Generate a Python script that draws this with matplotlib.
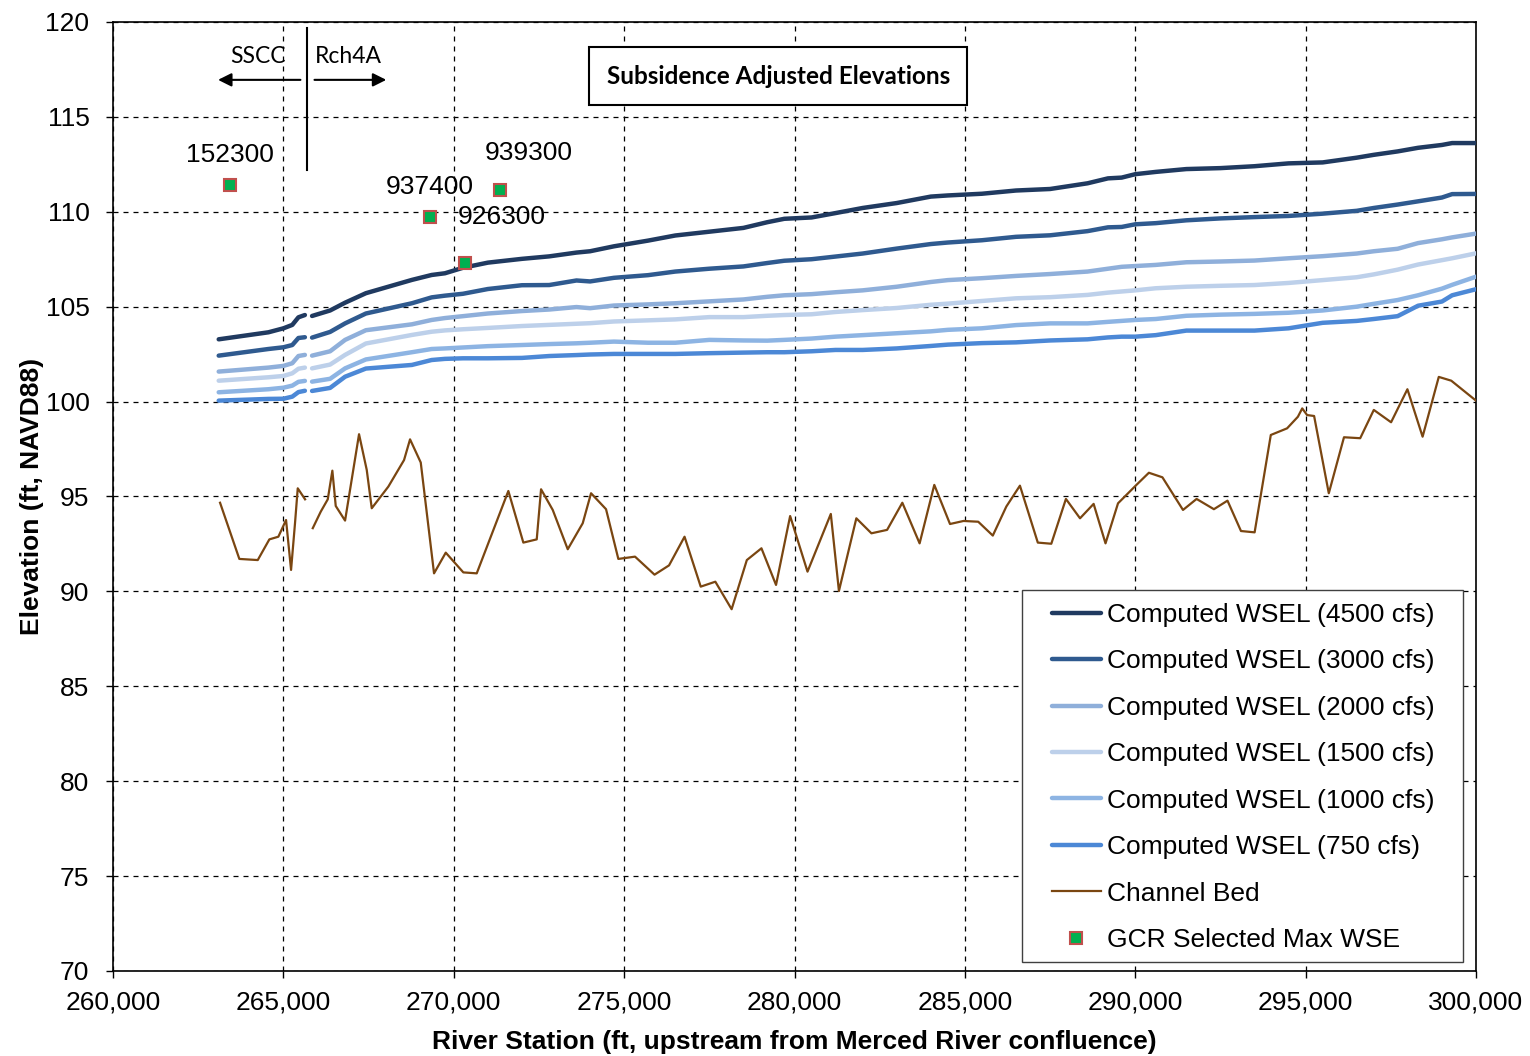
import numpy as np
import matplotlib
matplotlib.use("Agg")
import matplotlib.pyplot as plt
from matplotlib.patches import Rectangle

nan = np.nan

# ---- data ----
stations = [263100, 264560, 265000, 265260, 265440, 265630, 265700, 265840, 266370, 266810,
            267420, 268770, 269350, 269740, 270270, 271000, 272000, 272800, 273600, 274000,
            274700, 275700, 276500, 277500, 278500, 279200, 279700, 280500, 281200, 282000,
            283000, 284000, 284500, 285500, 286500, 287500, 288600, 289200, 289600, 290000,
            290600, 291500, 292500, 293500, 294500, 295500, 296500, 297000, 297700, 298300,
            299000, 299300, 300000]

wsel_4500 = [103.28, 103.65, 103.86, 104.04, 104.44, 104.56, nan, 104.51, 104.80, 105.21,
             105.71, 106.41, 106.67, 106.76, 107.05, 107.32, 107.52, 107.65, 107.85, 107.92,
             108.18, 108.48, 108.75, 108.95, 109.15, 109.45, 109.63, 109.70, 109.93, 110.20,
             110.46, 110.80, 110.86, 110.95, 111.12, 111.20, 111.50, 111.76, 111.80, 111.98,
             112.10, 112.25, 112.30, 112.40, 112.55, 112.60, 112.85, 113.00, 113.18, 113.37,
             113.52, 113.62, 113.62]
wsel_3000 = [102.42, 102.77, 102.86, 102.98, 103.35, 103.39, nan, 103.37, 103.67, 104.12,
             104.64, 105.18, 105.49, 105.58, 105.68, 105.93, 106.13, 106.14, 106.38, 106.33,
             106.52, 106.66, 106.85, 107.00, 107.12, 107.30, 107.42, 107.50, 107.64, 107.80,
             108.06, 108.30, 108.38, 108.50, 108.68, 108.76, 108.98, 109.18, 109.20, 109.34,
             109.40, 109.55, 109.65, 109.72, 109.78, 109.90, 110.05, 110.20, 110.38, 110.55,
             110.75, 110.93, 110.94]
wsel_2000 = [101.58, 101.79, 101.88, 102.02, 102.40, 102.46, nan, 102.42, 102.65, 103.25,
             103.76, 104.07, 104.30, 104.40, 104.50, 104.64, 104.77, 104.85, 104.98, 104.92,
             105.06, 105.12, 105.18, 105.28, 105.38, 105.52, 105.60, 105.66, 105.76, 105.86,
             106.05, 106.30, 106.40, 106.50, 106.62, 106.72, 106.85, 107.00, 107.10, 107.14,
             107.20, 107.34, 107.38, 107.43, 107.55, 107.66, 107.80, 107.92, 108.05, 108.35,
             108.55, 108.65, 108.85]
wsel_1500 = [101.10, 101.28, 101.35, 101.49, 101.73, 101.79, nan, 101.75, 101.95, 102.46,
             103.06, 103.51, 103.68, 103.75, 103.81, 103.88, 103.98, 104.04, 104.10, 104.13,
             104.22, 104.28, 104.33, 104.45, 104.45, 104.52, 104.56, 104.60, 104.72, 104.82,
             104.93, 105.10, 105.16, 105.30, 105.44, 105.50, 105.62, 105.74, 105.80, 105.86,
             105.97, 106.05, 106.10, 106.14, 106.25, 106.40, 106.55, 106.70, 106.95, 107.22,
             107.45, 107.55, 107.81]
wsel_1000 = [100.49, 100.65, 100.73, 100.84, 101.04, 101.09, nan, 101.05, 101.20, 101.75,
             102.22, 102.60, 102.77, 102.80, 102.85, 102.92, 102.98, 103.03, 103.07, 103.10,
             103.16, 103.10, 103.10, 103.25, 103.22, 103.21, 103.25, 103.32, 103.42, 103.50,
             103.60, 103.70, 103.78, 103.86, 104.03, 104.12, 104.12, 104.20, 104.25, 104.30,
             104.35, 104.52, 104.58, 104.62, 104.68, 104.80, 105.00, 105.15, 105.35, 105.60,
             105.95, 106.15, 106.58]
wsel_750 = [100.05, 100.14, 100.15, 100.26, 100.50, 100.57, nan, 100.56, 100.72, 101.31,
            101.74, 101.93, 102.19, 102.25, 102.28, 102.28, 102.30, 102.40, 102.45, 102.48,
            102.51, 102.51, 102.51, 102.55, 102.58, 102.60, 102.60, 102.65, 102.72, 102.72,
            102.80, 102.93, 103.00, 103.08, 103.12, 103.22, 103.28, 103.38, 103.42, 103.42,
            103.50, 103.74, 103.74, 103.74, 103.86, 104.15, 104.25, 104.35, 104.50, 105.05,
            105.27, 105.60, 105.92]

bed_station = [263140, 263706, 264246, 264587, 264851, 265077, 265224, 265341, 265420, 265635,
               265750, 265861, 266095, 266301, 266436, 266535, 266809, 267219, 267445, 267592,
               268079, 268540, 268716, 269030, 269420, 269764, 270280, 270673, 271601, 272041,
               272434, 272561, 272904, 273344, 273784, 274028, 274468, 274829, 275319, 275891,
               276317, 276772, 277247, 277676, 278154, 278600, 279029, 279457, 279871, 280381,
               281065, 281303, 281814, 282257, 282717, 283164, 283671, 284102, 284563, 284960,
               285391, 285819, 286216, 286615, 287140, 287536, 287965, 288379, 288778, 289127,
               289494, 290034, 290400, 290797, 291401, 291800, 292308, 292707, 293103, 293503,
               293978, 294456, 294773, 294900, 295043, 295249, 295680, 296126, 296602, 297001,
               297508, 297987, 298433, 298908, 299275, 300000]
bed_elev = [94.67, 91.71, 91.65, 92.74, 92.88, 93.76, 91.13, 93.62, 95.43, 94.85,
            nan, 93.33, 94.20, 94.85, 96.36, 94.50, 93.73, 98.28, 96.40, 94.38,
            95.52, 96.92, 98.01, 96.79, 90.95, 92.04, 91.00, 90.95, 95.29, 92.57,
            92.74, 95.38, 94.29, 92.22, 93.59, 95.17, 94.33, 91.71, 91.83, 90.88,
            91.37, 92.88, 90.25, 90.51, 89.06, 91.65, 92.27, 90.34, 93.97, 91.04,
            94.08, 90.02, 93.85, 93.06, 93.24, 94.67, 92.53, 95.61, 93.55, 93.71,
            93.67, 92.94, 94.47, 95.57, 92.57, 92.51, 94.87, 93.85, 94.61, 92.53,
            94.64, 95.61, 96.25, 96.01, 94.29, 94.87, 94.33, 94.78, 93.18, 93.11,
            98.24, 98.59, 99.20, 99.64, 99.29, 99.24, 95.17, 98.12, 98.07, 99.56,
            98.91, 100.65, 98.15, 101.30, 101.10, 100.05]

gcr_station = [263434, 269303, 270330, 271357]
gcr_elev = [111.41, 109.73, 107.30, 111.15]
gcr_labels = ["152300", "937400", "926300", "939300"]
gcr_label_pos = [(263434, 113.0), (269303, 111.3), (271400, 109.73), (272200, 113.1)]

series_labels = ["Computed WSEL (4500 cfs)", "Computed WSEL (3000 cfs)", "Computed WSEL (2000 cfs)",
                 "Computed WSEL (1500 cfs)", "Computed WSEL (1000 cfs)", "Computed WSEL (750 cfs)"]
series_colors = ["#203A60", "#2F5A8F", "#8FAFDA", "#BDD0EA", "#8DB4E3", "#4C88D6"]
series_values = [wsel_4500, wsel_3000, wsel_2000, wsel_1500, wsel_1000, wsel_750]

x_ticks = list(range(260000, 300001, 5000))
y_ticks = list(range(70, 121, 5))

# ---- plot ----
plt.rcParams['font.family'] = ['Liberation Sans', 'DejaVu Sans']
fig = plt.figure(figsize=(15.3, 10.56), dpi=100)
ax = fig.add_axes([0.0739, 0.0805, 0.8908, 0.8987])

for vals, col, lab in zip(series_values, series_colors, series_labels):
    ax.plot(stations, np.array(vals, dtype=float), color=col, lw=3.2, label=lab,
            solid_capstyle='round', zorder=3)
ax.plot(bed_station, np.array(bed_elev, dtype=float), color="#7A4611", lw=1.6,
        label="Channel Bed", zorder=3)
ax.plot(gcr_station, gcr_elev, linestyle='none', marker='s', markersize=8,
        markerfacecolor="#00B050", markeredgecolor="#C0504D", markeredgewidth=1.5,
        label="GCR Selected Max WSE", zorder=5)

for lab, (lx, ly) in zip(gcr_labels, gcr_label_pos):
    ax.text(lx, ly, lab, ha='center', va='center', fontsize=19, zorder=6)

# reach annotation
ax.plot([265690, 265690], [112.2, 119.7], color='black', lw=1.5, zorder=6)
ax.annotate("", xy=(263000, 116.95), xytext=(265580, 116.95),
            arrowprops=dict(arrowstyle='-|>', color='black', lw=1.5, mutation_scale=20), zorder=6)
ax.annotate("", xy=(268100, 116.95), xytext=(265830, 116.95),
            arrowprops=dict(arrowstyle='-|>', color='black', lw=1.5, mutation_scale=20), zorder=6)
ax.text(264250, 118.2, "SSCC", ha='center', va='center', fontsize=16.5, family=['Lato', 'DejaVu Sans'])
ax.text(266900, 118.2, "Rch4A", ha='center', va='center', fontsize=16.5, family=['Lato', 'DejaVu Sans'])

ax.text(0.488, 0.943, "Subsidence Adjusted Elevations", transform=ax.transAxes, ha='center',
        va='center', fontsize=17.5, fontweight='bold', family=['Lato', 'DejaVu Sans'],
        bbox=dict(boxstyle='square,pad=0.72', facecolor='white', edgecolor='black', lw=1.5), zorder=7)

ax.set_xlim(260000, 300000)
ax.set_ylim(70, 120)
ax.set_xticks(x_ticks)
ax.set_yticks(y_ticks)
ax.set_xticklabels([f"{v:,}" for v in x_ticks])
ax.tick_params(axis='both', labelsize=19, direction='out', length=5, width=1)
ax.tick_params(axis='x', pad=9)
ax.tick_params(axis='y', pad=12)
ax.grid(True, color='black', linestyle=(0, (4, 4)), lw=0.9)
ax.set_axisbelow(True)
for s in ax.spines.values():
    s.set_linewidth(1.2)

ax.set_xlabel("River Station (ft, upstream from Merced River confluence)", fontsize=19,
              fontweight='bold', labelpad=11)
ax.set_ylabel("Elevation (ft, NAVD88)", fontsize=19, fontweight='bold', labelpad=1)

# legend frame drawn separately for Excel-like padding
ax.add_patch(Rectangle((0.6669, 0.0095), 0.3236, 0.392, transform=ax.transAxes,
                       facecolor='white', edgecolor='#404040', lw=1.0, zorder=8))
leg = ax.legend(loc='upper left', bbox_to_anchor=(0.6889, 0.3878), fontsize=19,
                frameon=False, handlelength=1.85, handletextpad=0.25, labelspacing=0.85,
                borderpad=0, borderaxespad=0)
leg.set_zorder(9)

fig.savefig("out.png", dpi=100)
